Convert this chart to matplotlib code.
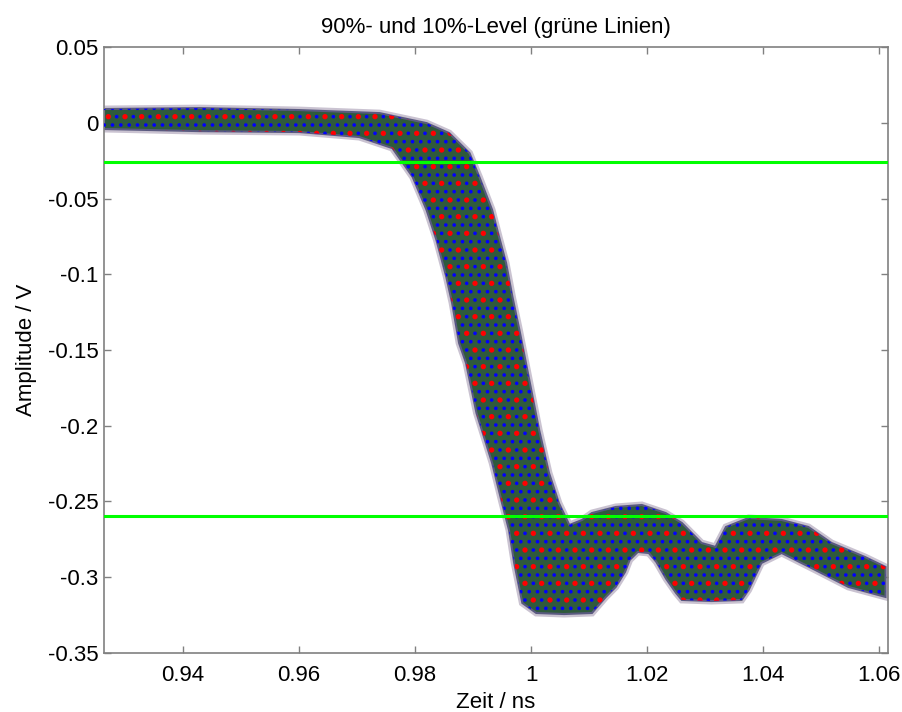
import numpy as np
import matplotlib
matplotlib.use("Agg")
import matplotlib.pyplot as plt
from matplotlib.ticker import FuncFormatter

# Outline of the point cloud (all sweeps)
# upper/right side, left to right
upper_t = [0.9264, 0.9429, 0.9601, 0.9739, 0.9820, 0.9859, 0.9894, 0.9911,
           0.9933, 0.9945, 0.9957, 0.9968, 0.9980, 0.9997, 1.0014, 1.0031,
           1.0048, 1.0066, 1.0088, 1.0105, 1.0146, 1.0191, 1.0232, 1.0260,
           1.0294, 1.0318, 1.0336, 1.0375, 1.0432, 1.0478, 1.0518, 1.0576,
           1.0611]
upper_v = [0.0091, 0.0097, 0.0084, 0.0064, -0.0002, -0.0068, -0.0200, -0.0358,
           -0.0576, -0.0754, -0.0926, -0.1150, -0.1368, -0.1698, -0.2028, -0.2312,
           -0.2510, -0.2655, -0.2622, -0.2576, -0.2536, -0.2523, -0.2576, -0.2642,
           -0.2774, -0.2800, -0.2668, -0.2609, -0.2622, -0.2668, -0.2774, -0.2867,
           -0.2932]
# lower/left side, right to left
lower_t = [1.0611, 1.0547, 1.0490, 1.0432, 1.0397, 1.0375, 1.0363, 1.0311,
           1.0260, 1.0250, 1.0233, 1.0216, 1.0203, 1.0184, 1.0170, 1.0162,
           1.0146, 1.0129, 1.0105, 1.0057, 1.0009, 0.9985, 0.9971, 0.9962,
           0.9950, 0.9933, 0.9906, 0.9888, 0.9876, 0.9864, 0.9854, 0.9837,
           0.9820, 0.9796, 0.9778, 0.9761, 0.9704, 0.9601, 0.9429, 0.9264]
lower_v = [-0.3130, -0.3064, -0.2952, -0.2840, -0.2906, -0.3084, -0.3150, -0.3157,
           -0.3150, -0.3104, -0.3011, -0.2899, -0.2840, -0.2833, -0.2886, -0.2965,
           -0.3064, -0.3130, -0.3236, -0.3243, -0.3236, -0.3170, -0.2906, -0.2688,
           -0.2510, -0.2246, -0.1916, -0.1586, -0.1454, -0.1190, -0.1018, -0.0774,
           -0.0576, -0.0358, -0.0259, -0.0167, -0.0094, -0.0061, -0.0055, -0.0041]

level_90 = -0.0261
level_10 = -0.2594

x_ticks = [0.94, 0.96, 0.98, 1.00, 1.02, 1.04, 1.06]
y_ticks = [0.05, 0.0, -0.05, -0.1, -0.15, -0.2, -0.25, -0.3, -0.35]

# MATLAB default line colours (one per sweep)
BLUE, GREEN, RED = "#0000ff", "#008000", "#ff0000"
GREY = "#808080"

plt.rcParams["font.family"] = ["Liberation Sans", "DejaVu Sans"]
plt.rcParams["hatch.linewidth"] = 1.4

fig = plt.figure(figsize=(9.03, 7.12), dpi=100)
ax = fig.add_axes([0.1152, 0.0829, 0.868, 0.851])

cloud_t = np.concatenate([upper_t, lower_t])
cloud_v = np.concatenate([upper_v, lower_v])

# soft speckled rim, base of the cloud, then coloured speckles on top
ax.fill(cloud_t, cloud_v, facecolor="none", edgecolor="#8a7a9a", linewidth=5,
        alpha=0.45, zorder=1)
ax.fill(cloud_t, cloud_v, facecolor="#2f5a3c", edgecolor="#5a5a80", linewidth=1.5, zorder=2)
for col, h in [(BLUE, ".."), (RED, ".")]:
    ax.fill(cloud_t, cloud_v, facecolor="none", edgecolor=col, hatch=h,
            linewidth=0, zorder=3)

ax.axhline(level_90, color="#00ff00", linewidth=2.2, zorder=4)
ax.axhline(level_10, color="#00ff00", linewidth=2.2, zorder=4)

ax.set_xlim(0.9264, 1.0615)
ax.set_ylim(-0.35, 0.05)
ax.set_xticks(x_ticks)
ax.set_yticks(y_ticks)
ax.xaxis.set_major_formatter(FuncFormatter(lambda v, p: "%g" % round(v, 4)))
ax.yaxis.set_major_formatter(FuncFormatter(lambda v, p: "%g" % round(v, 4)))

for s in ax.spines.values():
    s.set_color(GREY)
    s.set_linewidth(1.2)
ax.tick_params(direction="in", length=5, width=1, color=GREY, top=True, right=True,
               labelsize=16, labelcolor="black")
ax.tick_params(axis="x", pad=9)
ax.tick_params(axis="y", pad=4)

ax.set_xlabel("Zeit / ns", fontsize=16, labelpad=4)
ax.set_ylabel("Amplitude / V", fontsize=16, labelpad=8)
ax.set_title("90%- und 10%-Level (grüne Linien)", fontsize=16, pad=10)

fig.savefig("out.png", dpi=100)
